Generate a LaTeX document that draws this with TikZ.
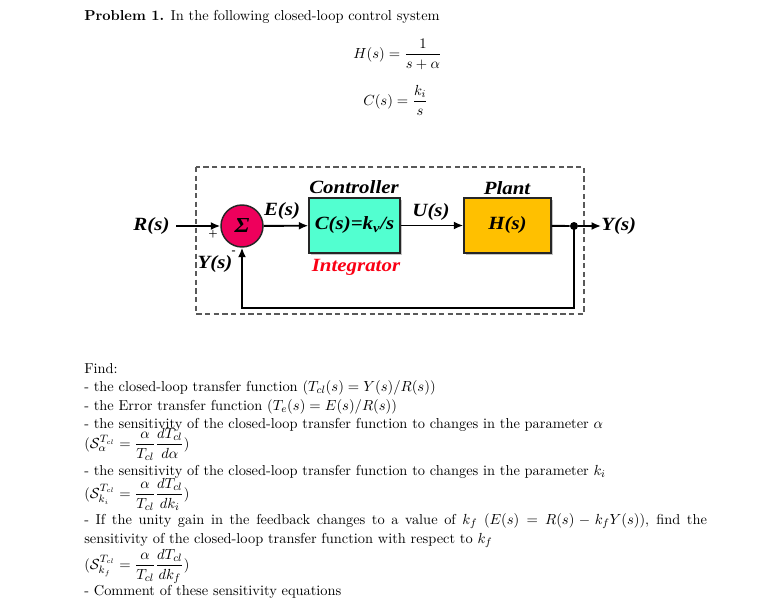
\documentclass[tikz,border=0pt]{standalone}
\usepackage{fontspec}
\usepackage{amsmath}
\newfontfamily\blockfont{Liberation Serif}[FakeStretch=1.12]
\usetikzlibrary{arrows.meta,shadows}
\definecolor{sumred}{RGB}{238,0,92}
\definecolor{ctrlcyan}{RGB}{82,255,208}
\definecolor{plantamber}{RGB}{255,192,0}
\definecolor{intred}{RGB}{250,0,20}
\begin{document}
\begin{tikzpicture}[x=0.75pt,y=-0.75pt,
	lbl/.style={font={\blockfont\bfseries\itshape\fontsize{14}{16}\selectfont}},
	blk/.style={lbl,draw=black!85,line width=1.1pt,minimum height=41.25pt,drop shadow={shadow xshift=1.5pt,shadow yshift=-1.5pt,fill=black!45}},
	sig/.style={line width=1.4pt},
	arr/.style={line width=1.4pt,-{Latex[length=7pt,width=6pt]}},
	txt/.style={anchor=base west,inner sep=0pt,font=\fontsize{10.8}{13}\selectfont}]
		\useasboundingbox (0,0) rectangle (764,603);
		\node [txt] (ttl) at (84,20) {\textbf{Problem 1.} In the following closed-loop control system};
		\node [txt] (hs) at (353,58) {$\displaystyle H(s)=\frac{1}{s+\alpha}$};
		\node [txt] (cs) at (363,105) {$\displaystyle C(s)=\frac{k_i}{s}$};
		\draw [gray!70!black,line width=1pt,dash pattern=on 4pt off 2.5pt] (196,167) rectangle (584,314);
		\node [lbl,inner sep=0pt] (R) at (151.5,226) {R(s)};
		\node [circle,draw=black!85,line width=1.1pt,fill=sumred,minimum size=31.5pt,inner sep=0pt,
			font={\blockfont\bfseries\itshape\fontsize{16}{16}\selectfont}] (sum) at (242,226) {Σ};
		\node [blk,fill=ctrlcyan,minimum width=68.25pt] (ctrl) at (354.5,225.5) {C(s)=k\textsubscript{v}/s};
		\node [blk,fill=plantamber,minimum width=65.25pt] (plant) at (507.5,225.5) {H(s)};
		\node [circle,fill=black,inner sep=0pt,minimum size=6pt] (dot) at (574,226) {};
		\coordinate (out) at (601,226);
		\coordinate (fbr) at (574,308);
		\coordinate (fbl) at (242,308);
		\draw [arr,shorten <=5pt] (R) -- (sum);
		\draw [arr] (sum) -- (ctrl);
		\draw [arr] (ctrl) -- (plant);
		\draw [sig] (plant) -- (dot);
		\draw [arr] (dot) -- (out);
		\draw [arr] (dot.center) -- (fbr) -- (fbl) -- (sum.south);
		\node [lbl,anchor=west,inner sep=0pt] (Y) at (out) {Y(s)};
		\node [lbl] (ctrltop) at (354,187) {Controller};
		\node [lbl] (planttop) at (507,188) {Plant};
		\node [lbl,text=intred] (intg) at (356,267) {Integrator};
		\node [lbl] (E) at (282,211) {E(s)};
		\node [lbl] (U) at (431,212) {U(s)};
		\node [lbl] (Yfb) at (215,264) {Y(s)};
		\node [font=\bfseries\fontsize{7}{8}\selectfont,inner sep=0pt] (plus) at (213,234) {+};
		\node [font=\bfseries\fontsize{7}{8}\selectfont,inner sep=0pt] (minus) at (234,252) {-};
		\node [txt] (find) at (84,373) {Find:};
		\node [txt] (l1) at (84,391.5) {- the closed-loop transfer function ($T_{cl}(s)=Y(s)/R(s)$)};
		\node [txt] (l2) at (84,410) {- the Error transfer function ($T_e(s)=E(s)/R(s)$)};
		\node [txt] (l3) at (84,428) {- the sensitivity of the closed-loop transfer function to changes in the parameter $\alpha$};
		\node [txt] (s1) at (84,448) {($\mathcal{S}^{T_{cl}}_{\alpha}=\dfrac{\alpha}{T_{cl}}\dfrac{dT_{cl}}{d\alpha}$)};
		\node [txt] (l4) at (84,475) {- the sensitivity of the closed-loop transfer function to changes in the parameter $k_i$};
		\node [txt] (s2) at (84,498) {($\mathcal{S}^{T_{cl}}_{k_i}=\dfrac{\alpha}{T_{cl}}\dfrac{dT_{cl}}{dk_i}$)};
		\node [txt] (l5) at (84,524) {\hbox to 467pt{- If the unity gain in the feedback changes to a value of $k_f$ ($E(s)=R(s)-k_fY(s)$), find the}};
		\node [txt] (l6) at (84,543) {sensitivity of the closed-loop transfer function with respect to $k_f$};
		\node [txt] (s3) at (84,569) {($\mathcal{S}^{T_{cl}}_{k_f}=\dfrac{\alpha}{T_{cl}}\dfrac{dT_{cl}}{dk_f}$)};
		\node [txt] (l7) at (84,595) {- Comment of these sensitivity equations};
	\end{tikzpicture}
\end{document}
